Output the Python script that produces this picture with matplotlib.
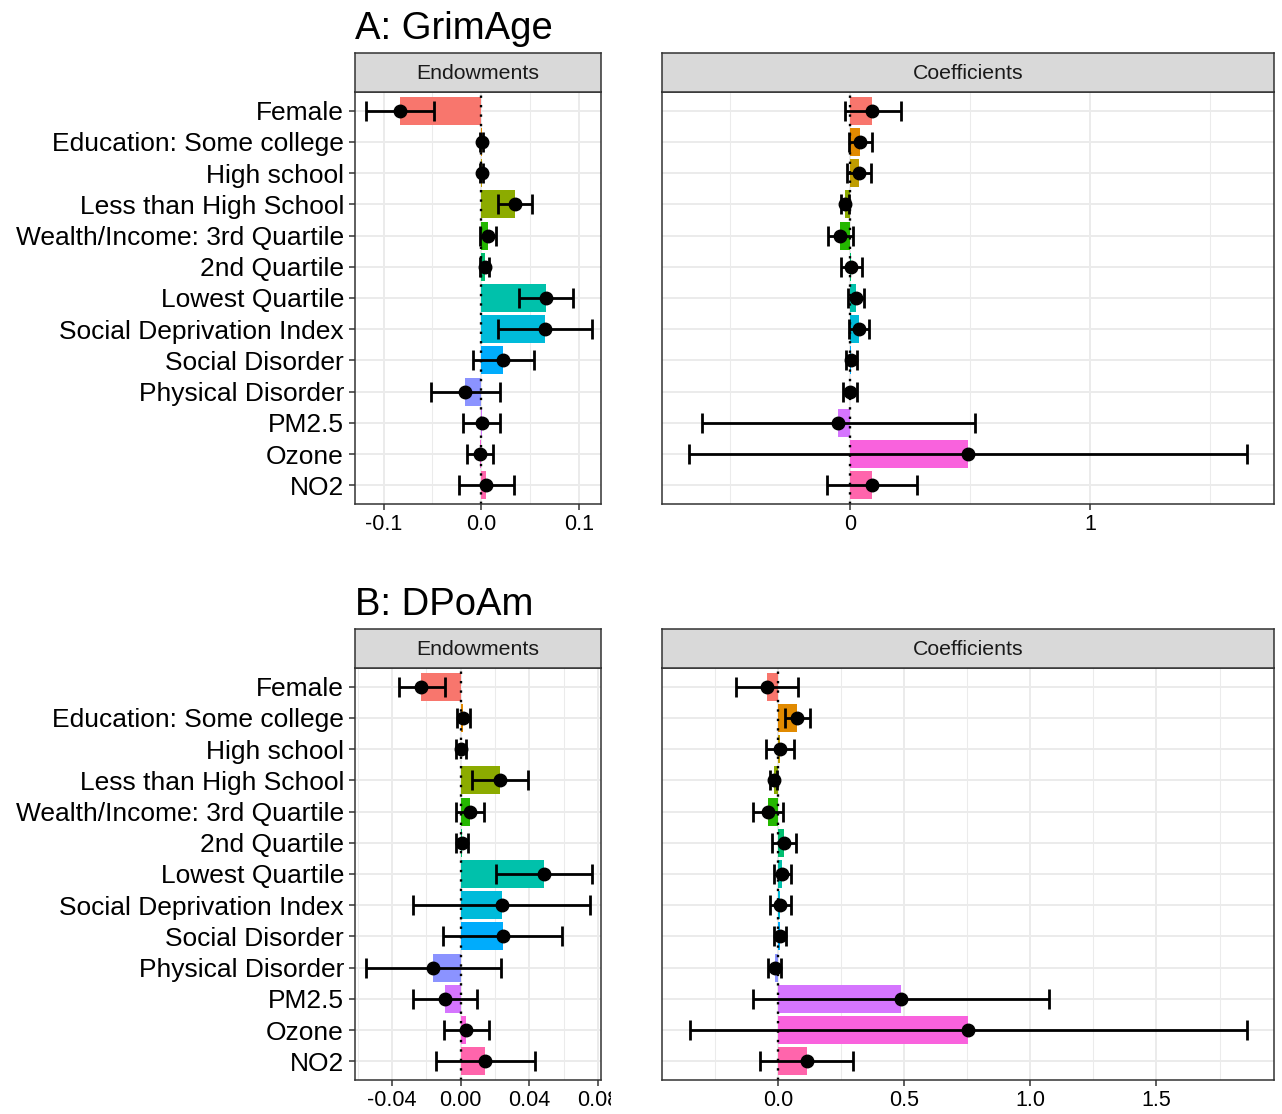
import matplotlib
matplotlib.use("Agg")
import matplotlib.pyplot as plt
from matplotlib.transforms import Bbox

plt.rcParams['font.family'] = ['Liberation Sans', 'DejaVu Sans']

categories = ["Female", "Education: Some college", "High school", "Less than High School",
              "Wealth/Income: 3rd Quartile", "2nd Quartile", "Lowest Quartile",
              "Social Deprivation Index", "Social Disorder", "Physical Disorder",
              "PM2.5", "Ozone", "NO2"]
colors = ["#F8766D", "#E18A00", "#BE9C00", "#8CAB00", "#24B700", "#00BE70", "#00C1AB",
          "#00BBDA", "#00ACFC", "#8B93FF", "#D575FE", "#F962DD", "#FF65AC"]

# A: GrimAge
a_endo_est = [-0.0835, 0.0008, 0.0003, 0.0344, 0.0065, 0.0035, 0.0660, 0.0655, 0.0225, -0.0165, 0.0002, -0.0015, 0.0050]
a_endo_lo = [-0.1177, -0.0010, -0.0010, 0.0170, -0.0010, -0.0010, 0.0390, 0.0170, -0.0085, -0.0517, -0.0190, -0.0143, -0.0228]
a_endo_hi = [-0.0483, 0.0020, 0.0015, 0.0520, 0.0146, 0.0080, 0.0940, 0.1130, 0.0540, 0.0190, 0.0194, 0.0119, 0.0333]

a_coef_est = [0.093, 0.040, 0.036, -0.021, -0.041, 0.003, 0.024, 0.036, 0.004, -0.002, -0.049, 0.493, 0.091]
a_coef_lo = [-0.023, -0.003, -0.015, -0.038, -0.094, -0.040, -0.010, -0.005, -0.018, -0.028, -0.616, -0.671, -0.097]
a_coef_hi = [0.211, 0.089, 0.087, -0.006, 0.012, 0.049, 0.059, 0.079, 0.030, 0.028, 0.519, 1.652, 0.280]

# B: DPoAm
b_endo_est = [-0.0229, 0.0015, 0.0002, 0.0230, 0.0054, 0.0008, 0.0487, 0.0242, 0.0249, -0.0159, -0.0089, 0.0033, 0.0143]
b_endo_lo = [-0.0357, -0.0023, -0.0025, 0.0066, -0.0029, -0.0025, 0.0208, -0.0280, -0.0105, -0.0553, -0.0276, -0.0099, -0.0144]
b_endo_hi = [-0.0089, 0.0056, 0.0033, 0.0394, 0.0138, 0.0043, 0.0767, 0.0755, 0.0592, 0.0237, 0.0097, 0.0165, 0.0433]

b_coef_est = [-0.044, 0.074, 0.006, -0.018, -0.041, 0.022, 0.014, 0.008, 0.006, -0.014, 0.487, 0.752, 0.113]
b_coef_lo = [-0.168, 0.028, -0.050, -0.032, -0.100, -0.024, -0.017, -0.033, -0.017, -0.039, -0.100, -0.351, -0.072]
b_coef_hi = [0.080, 0.124, 0.061, -0.004, 0.020, 0.071, 0.052, 0.052, 0.031, 0.011, 1.075, 1.857, 0.298]

W, H = 1282, 1114
fig = plt.figure(figsize=(W / 100, H / 100), dpi=100)


def rect(x0, y0, x1, y1):
    return [x0 / W, 1 - y1 / H, (x1 - x0) / W, (y1 - y0) / H]


BORDER = "#333333"


def panel(box, strip_box, strip_text, est, lo, hi, xlim, majors, major_labels, minors,
          show_y, clip_right=None):
    ax = fig.add_axes(rect(*box))
    ax.set_facecolor("white")
    ypos = list(range(len(categories)))
    for v in minors:
        ax.axvline(v, color="#EBEBEB", lw=0.75, zorder=0)
    for v in majors:
        ax.axvline(v, color="#EBEBEB", lw=1.4, zorder=0)
    for y in ypos:
        ax.axhline(y, color="#EBEBEB", lw=1.4, zorder=0)
    ax.barh(ypos, est, height=0.9, color=colors, zorder=2)
    ax.axvline(0, color="black", lw=1.7, linestyle=(0, (1, 3.0)), zorder=3)
    xerr = [[e - l for e, l in zip(est, lo)], [h - e for e, h in zip(est, hi)]]
    ax.errorbar(est, ypos, xerr=xerr, fmt="none", ecolor="black", elinewidth=2.0,
                capsize=7.0, capthick=2.0, zorder=4)
    ax.plot(est, ypos, "o", color="black", markersize=9, zorder=5)
    ax.set_xlim(*xlim)
    ax.set_ylim(len(categories) - 0.4, -0.6)
    ax.set_xticks(majors)
    ax.set_xticklabels(major_labels)
    ax.tick_params(axis="x", length=4, width=1.1, color=BORDER, labelsize=15.5,
                   labelcolor="black", pad=3)
    if show_y:
        ax.set_yticks(ypos)
        ax.set_yticklabels(categories)
        ax.tick_params(axis="y", length=4, width=1.1, color=BORDER, labelsize=19,
                       labelcolor="black", pad=4)
    else:
        ax.set_yticks([])
    for s in ax.spines.values():
        s.set_color(BORDER)
        s.set_linewidth(1.1)
        s.set_zorder(6)
    if clip_right is not None:
        bb = Bbox([[0, 0], [clip_right, H]])
        for lbl in ax.get_xticklabels():
            lbl.set_clip_box(bb)
            lbl.set_clip_on(True)
    sax = fig.add_axes(rect(*strip_box))
    sax.set_facecolor("#D9D9D9")
    sax.set_xticks([])
    sax.set_yticks([])
    for s in sax.spines.values():
        s.set_color(BORDER)
        s.set_linewidth(1.1)
    sax.text(0.5, 0.47, strip_text, ha="center", va="center", fontsize=15.3,
             color="#1A1A1A", transform=sax.transAxes)
    return ax


# Panel A
panel((355, 92, 601, 504), (355, 53, 601, 92), "Endowments",
      a_endo_est, a_endo_lo, a_endo_hi, (-0.1293, 0.1225),
      [-0.1, 0.0, 0.1], ["-0.1", "0.0", "0.1"], [-0.05, 0.05], True)
panel((662, 92, 1274, 504), (662, 53, 1274, 92), "Coefficients",
      a_coef_est, a_coef_lo, a_coef_hi, (-0.784, 1.766),
      [0, 1], ["0", "1"], [-0.5, 0.5, 1.5], False)

# Panel B
panel((355, 668, 601, 1080), (355, 629, 601, 668), "Endowments",
      b_endo_est, b_endo_lo, b_endo_hi, (-0.0616, 0.0817),
      [-0.04, 0.0, 0.04, 0.08], ["-0.04", "0.00", "0.04", "0.08"],
      [-0.06, -0.02, 0.02, 0.06], True, clip_right=611)
panel((662, 668, 1274, 1080), (662, 629, 1274, 668), "Coefficients",
      b_coef_est, b_coef_lo, b_coef_hi, (-0.461, 1.966),
      [0, 0.5, 1.0, 1.5], ["0.0", "0.5", "1.0", "1.5"],
      [-0.25, 0.25, 0.75, 1.25, 1.75], False)

fig.text(355 / W, 1 - 39 / H, "A: GrimAge", fontsize=27.5, ha="left", va="baseline")
fig.text(355 / W, 1 - 615 / H, "B: DPoAm", fontsize=27.5, ha="left", va="baseline")

fig.savefig("out.png", dpi=100, facecolor="white")
